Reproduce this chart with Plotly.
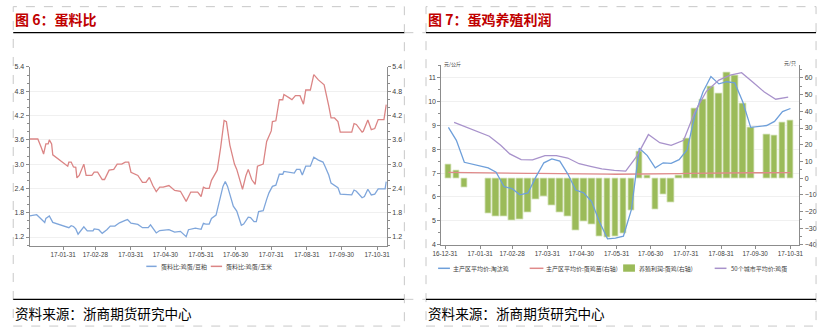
import plotly.graph_objects as go

W, H = 823, 332
def px(x): return x / W
def py(y): return 1 - y / H

# ---------------- Chart 1 data: 蛋料比 ----------------
c1_red_dates = ["2017-01-02","2017-01-09","2017-01-12","2017-01-14","2017-01-16","2017-01-18","2017-01-19","2017-01-21","2017-01-22",
 "2017-02-04","2017-02-05","2017-02-07","2017-02-09","2017-02-11","2017-02-12","2017-02-14","2017-02-18","2017-02-20","2017-02-25","2017-02-27",
 "2017-03-02","2017-03-06","2017-03-08","2017-03-12","2017-03-16","2017-03-19","2017-03-23","2017-03-26","2017-03-29","2017-03-31",
 "2017-04-06","2017-04-10","2017-04-13","2017-04-16","2017-04-19","2017-04-22","2017-04-25","2017-04-28",
 "2017-05-03","2017-05-08","2017-05-13","2017-05-18","2017-05-22","2017-05-28","2017-05-31",
 "2017-06-02","2017-06-04","2017-06-07","2017-06-09","2017-06-12","2017-06-14","2017-06-17","2017-06-20","2017-06-22","2017-06-25","2017-06-29",
 "2017-07-01","2017-07-06","2017-07-09","2017-07-11","2017-07-14","2017-07-17","2017-07-19","2017-07-24","2017-07-27","2017-07-31",
 "2017-08-01","2017-08-04","2017-08-07","2017-08-10","2017-08-11","2017-08-16","2017-08-18","2017-08-21","2017-08-25","2017-08-28","2017-08-30",
 "2017-09-03","2017-09-06","2017-09-10","2017-09-13","2017-09-15","2017-09-19","2017-09-21","2017-09-24","2017-09-26","2017-09-27","2017-09-29",
 "2017-10-09","2017-10-11","2017-10-13","2017-10-18","2017-10-19","2017-10-23","2017-10-26","2017-10-29",
 "2017-11-01","2017-11-06","2017-11-07","2017-11-08"]
c1_red = [3.62,3.62,3.41,3.25,3.50,3.50,3.60,3.50,3.23,
 2.95,3.05,3.05,2.93,2.92,2.66,2.72,3.00,2.72,2.72,2.80,
 2.80,2.62,2.62,2.85,2.87,3.00,3.00,3.05,3.05,2.80,
 2.72,2.55,2.55,2.67,2.47,2.32,2.43,2.43,
 2.47,2.35,2.33,2.08,2.31,2.31,2.20,
 2.43,2.40,2.40,2.60,2.73,2.85,3.41,4.08,4.05,3.47,3.00,
 2.87,2.38,2.72,2.87,2.62,2.50,2.95,3.00,3.56,3.82,
 4.05,4.07,4.59,4.59,4.72,4.63,4.59,4.69,4.69,4.48,4.83,
 4.83,5.21,5.08,5.00,4.96,4.44,4.14,4.14,4.07,4.05,3.79,
 3.79,4.00,3.98,3.79,3.81,4.09,3.85,3.88,
 4.10,4.10,4.25,4.47]

c1_blue_dates = ["2017-01-02","2017-01-08","2017-01-11","2017-01-15","2017-01-16","2017-01-19","2017-01-22","2017-01-26",
 "2017-02-01","2017-02-05","2017-02-07","2017-02-09","2017-02-11","2017-02-13","2017-02-18","2017-02-21","2017-02-26","2017-02-27",
 "2017-03-03","2017-03-06","2017-03-10","2017-03-13","2017-03-17","2017-03-21","2017-03-26","2017-03-28","2017-03-31",
 "2017-04-06","2017-04-10","2017-04-15","2017-04-17","2017-04-22","2017-04-25",
 "2017-05-03","2017-05-08","2017-05-13","2017-05-18","2017-05-20","2017-05-26","2017-05-31",
 "2017-06-02","2017-06-04","2017-06-07","2017-06-09","2017-06-13","2017-06-16","2017-06-19","2017-06-21","2017-06-23","2017-06-28",
 "2017-07-01","2017-07-05","2017-07-07","2017-07-11","2017-07-13","2017-07-16","2017-07-18","2017-07-20","2017-07-24","2017-07-27","2017-07-29",
 "2017-08-01","2017-08-04","2017-08-07","2017-08-10","2017-08-11","2017-08-17","2017-08-20","2017-08-22","2017-08-25","2017-08-27","2017-08-30",
 "2017-09-03","2017-09-06","2017-09-10","2017-09-14","2017-09-16","2017-09-19","2017-09-21","2017-09-24","2017-09-27","2017-09-29",
 "2017-10-09","2017-10-11","2017-10-13","2017-10-18","2017-10-20","2017-10-23","2017-10-26","2017-10-29",
 "2017-11-01","2017-11-07","2017-11-08"]
c1_blue = [1.72,1.75,1.67,1.56,1.66,1.72,1.56,1.52,
 1.46,1.43,1.48,1.46,1.40,1.27,1.45,1.35,1.35,1.40,
 1.38,1.29,1.38,1.47,1.47,1.55,1.61,1.63,1.54,
 1.51,1.43,1.43,1.50,1.30,1.36,
 1.38,1.32,1.34,1.21,1.38,1.42,1.39,
 1.54,1.52,1.52,1.66,1.74,2.12,2.45,2.57,2.45,1.96,
 1.84,1.49,1.52,1.69,1.68,1.58,1.58,1.83,1.85,2.13,2.29,
 2.45,2.48,2.75,2.75,2.82,2.79,2.78,2.87,2.87,2.73,2.95,
 2.95,3.17,3.10,3.05,2.93,2.73,2.53,2.48,2.42,2.26,
 2.24,2.36,2.33,2.17,2.20,2.38,2.24,2.26,
 2.39,2.39,2.57]

c1_ticks = ["2017-01-31","2017-02-28","2017-03-31","2017-04-30","2017-05-31","2017-06-30",
            "2017-07-31","2017-08-31","2017-09-30","2017-10-31"]
c1_ticktext = ["17-01-31","17-02-28","17-03-31","17-04-30","17-05-31","17-06-30",
               "17-07-31","17-08-31","17-09-30","17-10-31"]
c1_yticks = [1.2, 1.8, 2.4, 3.0, 3.6, 4.2, 4.8, 5.4]
c1_names = ["蛋料比:鸡蛋/豆粕", "蛋料比:鸡蛋/玉米"]

# ---------------- Chart 2 data: 蛋鸡养殖利润 ----------------
c2_dates = ["2017-01-03","2017-01-10","2017-01-17","2017-02-07","2017-02-14","2017-02-21","2017-02-28",
 "2017-03-07","2017-03-14","2017-03-21","2017-03-28","2017-04-04","2017-04-11","2017-04-18","2017-04-25",
 "2017-05-02","2017-05-09","2017-05-16","2017-05-23","2017-05-30","2017-06-06","2017-06-13","2017-06-20","2017-06-27",
 "2017-07-04","2017-07-11","2017-07-18","2017-07-25","2017-08-01","2017-08-08","2017-08-15","2017-08-22","2017-08-29",
 "2017-09-05","2017-09-12","2017-09-19","2017-09-26","2017-10-10","2017-10-17","2017-10-24","2017-10-31"]
c2_profit = [8.0,4.3,-5.5,-21.0,-22.8,-22.8,-25.4,-25.0,-20.5,-12.7,-11.3,-16.2,-20.5,-23.0,-31.2,
 -26.3,-27.9,-35.1,-35.7,-35.1,-33.0,-19.5,16.2,1.4,-19.0,-9.8,-14.6,1.4,23.7,41.9,47.1,54.7,50.6,
 63.3,61.4,44.8,30.2,26.3,25.3,33.1,34.7]
c2_hen = [8.91,8.37,7.45,7.22,7.04,6.43,6.35,6.09,6.17,6.84,7.43,7.59,7.50,6.97,6.29,
 6.17,5.81,4.95,4.25,4.28,4.36,5.47,8.04,7.73,7.22,7.43,7.41,7.56,7.97,9.43,10.39,11.04,10.73,
 10.82,10.77,9.98,8.91,8.99,9.16,9.57,9.70]
c2_chick = [3.4,3.3,3.2,3.1,3.0,3.0,2.9,2.9,2.8,2.8,2.8,2.7,2.7,2.6,2.6,
 2.5,2.5,2.4,2.4,2.3,2.3,2.4,2.4,2.5,2.5,2.6,2.6,2.7,2.8,2.9,3.0,3.0,3.1,
 3.1,3.2,3.2,3.2,3.2,3.3,3.3,3.3]
c2_egg_dates = ["2017-01-08","2017-01-18","2017-01-28","2017-02-08","2017-02-18","2017-02-26",
 "2017-03-08","2017-03-18","2017-03-29","2017-04-08","2017-04-18","2017-04-28",
 "2017-05-08","2017-05-18","2017-05-29","2017-06-08","2017-06-18","2017-06-28",
 "2017-07-08","2017-07-18","2017-07-29","2017-08-08","2017-08-18","2017-08-29",
 "2017-09-08","2017-09-18","2017-09-28","2017-10-08","2017-10-18","2017-10-29"]
c2_egg = [9.12,8.93,8.74,8.54,8.16,7.80,7.56,7.55,7.73,7.73,7.63,7.39,
 7.28,7.18,7.11,7.08,7.72,8.61,8.27,8.16,8.37,9.57,10.42,10.89,
 11.10,11.20,10.80,10.39,10.09,10.18]
c2_ticks = ["2016-12-31"] + c1_ticks
c2_ticktext = ["16-12-31"] + c1_ticktext
c2_lticks = [4, 5, 6, 7, 8, 9, 10, 11]
c2_rticks = [-40, -30, -20, -10, 0, 10, 20, 30, 40, 50, 60]
c2_names = ["主产区平均价:淘汰鸡", "主产区平均价:蛋鸡苗(右轴)", "养殖利润:蛋鸡(右轴)", "50个城市平均价:鸡蛋"]

BLUE1, RED1 = "#7FA6DB", "#DB8585"
BLUE2, RED2, GREEN, PURPLE = "#6E9FDA", "#E08A8A", "#9BBB59", "#A892CB"
AX = "#8C8C8C"
TXT = "#404040"
NUMF = "Liberation Sans"
CJK = "Noto Sans CJK SC"

fig = go.Figure()
fig.add_trace(go.Scatter(x=c1_blue_dates, y=c1_blue, mode="lines", line=dict(color=BLUE1, width=1.3),
                         xaxis="x", yaxis="y", showlegend=False))
fig.add_trace(go.Scatter(x=c1_red_dates, y=c1_red, mode="lines", line=dict(color=RED1, width=1.3),
                         xaxis="x", yaxis="y2", showlegend=False))

# chart 2: base axis y3 (right) carries bars + chick price; overlay y4 (left) carries lines on top
fig.add_trace(go.Bar(x=c2_dates, y=c2_profit, marker=dict(color=GREEN, line=dict(color="#dbe7c4", width=0.8)),
                     width=5.8 * 86400000, xaxis="x2", yaxis="y3", showlegend=False))
fig.add_trace(go.Scatter(x=c2_dates, y=c2_chick, mode="lines", line=dict(color=RED2, width=1.3),
                         xaxis="x2", yaxis="y3", showlegend=False))
fig.add_trace(go.Scatter(x=c2_dates, y=c2_hen, mode="lines", line=dict(color=BLUE2, width=1.3),
                         xaxis="x2", yaxis="y4", showlegend=False))
fig.add_trace(go.Scatter(x=c2_egg_dates, y=c2_egg, mode="lines", line=dict(color=PURPLE, width=1.3),
                         xaxis="x2", yaxis="y4", showlegend=False))

xcommon = dict(showline=True, linecolor=AX, linewidth=1, ticks="outside", ticklen=3, tickcolor=AX,
               showgrid=False, zeroline=False, tickfont=dict(family=NUMF, size=6.3, color=TXT), type="date")
ycommon = dict(showline=True, linecolor=AX, linewidth=1, ticks="outside", ticklen=3, tickcolor=AX,
               zeroline=False, tickfont=dict(family=NUMF, size=7, color=TXT),
               minor=dict(ticks="outside", ticklen=2, tickcolor=AX))

c1_range = [0.983, 5.4]
fig.update_layout(
    width=W, height=H, margin=dict(l=0, r=0, t=0, b=0),
    paper_bgcolor="white", plot_bgcolor="white", showlegend=False, bargap=0,
    xaxis=dict(domain=[px(21), px(384)], anchor="y", range=["2017-01-01 21:36", "2017-11-08 14:24"],
               tickvals=c1_ticks, ticktext=c1_ticktext, **xcommon),
    yaxis=dict(domain=[py(247), py(64.3)], anchor="x", range=c1_range, tickvals=c1_yticks,
               ticktext=[f"{v:.1f}" for v in c1_yticks], showgrid=True, gridcolor="#F0F0F0", gridwidth=1,
               **ycommon),
    yaxis2=dict(overlaying="y", side="right", anchor="x", range=c1_range, tickvals=c1_yticks,
                ticktext=[f"{v:.1f}" for v in c1_yticks], showgrid=False, **ycommon),
    xaxis2=dict(domain=[px(439.3), px(803)], anchor="y3", range=["2016-12-27 19:00", "2017-11-07 19:00"],
                tickvals=c2_ticks, ticktext=c2_ticktext, **xcommon),
    yaxis3=dict(domain=[py(246), py(62.8)], anchor="x2", side="right", range=[-40, 67.5], tickvals=c2_rticks,
                showgrid=False, **ycommon),
    yaxis4=dict(overlaying="y3", side="left", anchor="x2", range=[4, 11.5], tickvals=c2_lticks,
                showgrid=True, gridcolor="#F0F0F0", gridwidth=1, **ycommon),
)

shapes = []
DASH = dict(color="#C8C8C8", width=1, dash="dash")
for (x0, x1) in [(4.3, 401.7), (423.7, 820)]:
    shapes.append(dict(type="rect", xref="paper", yref="paper", x0=px(x0), x1=px(x1), y0=py(329), y1=py(2.7),
                       line=DASH))
    for yy in (29.3, 301.7):
        shapes.append(dict(type="line", xref="paper", yref="paper", x0=px(x0), x1=px(x1), y0=py(yy), y1=py(yy),
                           line=dict(color="black", width=1.3)))
for yy in (29.3, 301.7):
    shapes.append(dict(type="line", xref="paper", yref="paper", x0=px(401.7), x1=px(423.7), y0=py(yy), y1=py(yy),
                       line=DASH))

# manual legends
def leg_line(x0, x1, y, color):
    shapes.append(dict(type="line", xref="paper", yref="paper", x0=px(x0), x1=px(x1), y0=py(y), y1=py(y),
                       line=dict(color=color, width=1.5)))
leg_line(139.5, 150, 268, BLUE1)
leg_line(205, 216.5, 268, RED1)
leg_line(436, 448, 270, BLUE2)
leg_line(529, 543, 270, RED2)
shapes.append(dict(type="rect", xref="paper", yref="paper", x0=px(624), x1=px(636), y0=py(273.5), y1=py(266),
                   fillcolor=GREEN, line=dict(width=0)))
leg_line(717, 729, 270, PURPLE)

annotations = []
def text(x, y, s, size, color=TXT, family=CJK, xanchor="left", bold=False):
    if bold:
        s = f"<b>{s}</b>"
    annotations.append(dict(x=px(x), y=py(y), xref="paper", yref="paper", text=s, showarrow=False,
                            xanchor=xanchor, yanchor="middle", font=dict(family=family, size=size, color=color)))

text(4.5, 15.5, "图 6：蛋料比", 14, color="#C00000", bold=True)
text(423.5, 15.5, "图 7：蛋鸡养殖利润", 14, color="#C00000", bold=True)
text(4.5, 316, "资料来源：浙商期货研究中心", 13.6, color="black")
text(423.5, 316, "资料来源：浙商期货研究中心", 13.6, color="black")
text(152.5, 268, c1_names[0], 6, color=TXT)
text(218.5, 268, c1_names[1], 6, color=TXT)
text(449.5, 270, c2_names[0], 6, color=TXT)
text(544, 270, c2_names[1], 6, color=TXT)
text(638, 270, c2_names[2], 6, color=TXT)
text(731.5, 270, c2_names[3], 6, color=TXT)
text(439.5, 61, "元/公斤", 5, color=TXT)
text(802, 60.5, "元/只", 5, color=TXT, xanchor="right")

fig.update_layout(shapes=shapes, annotations=annotations)
fig.write_html("out.html")
